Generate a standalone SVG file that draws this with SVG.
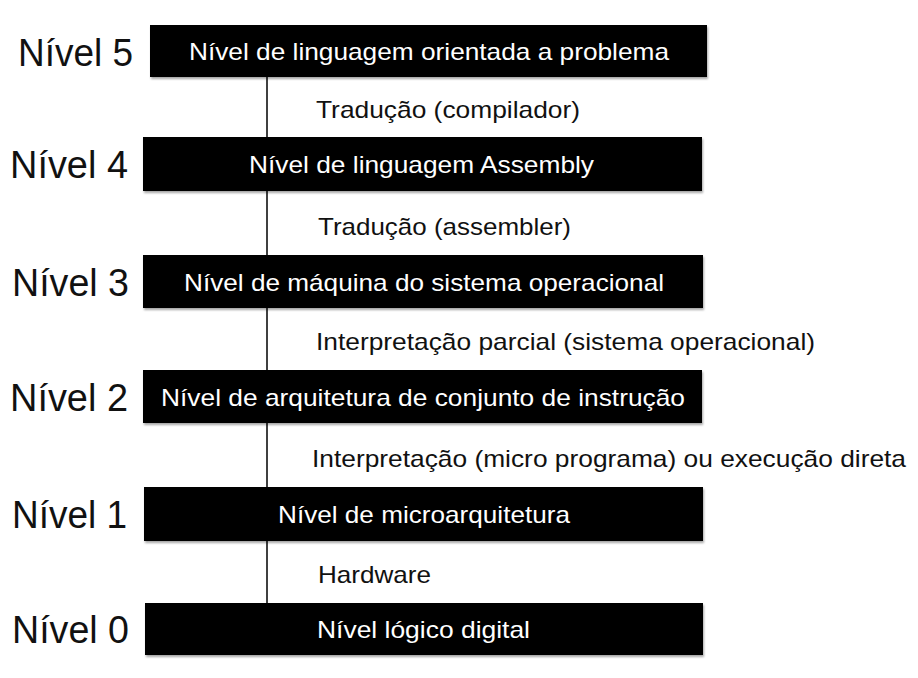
<svg xmlns="http://www.w3.org/2000/svg" width="918" height="678" viewBox="0 0 918 678">
<defs>
<filter id="sh" x="-5%" y="-20%" width="110%" height="150%">
<feDropShadow dx="1" dy="2" stdDeviation="1" flood-color="#000" flood-opacity="0.35"/>
</filter>
</defs>
<style>
.box{fill:#000;filter:url(#sh)}
.bt{font-family:"Liberation Sans",Arial,sans-serif;font-size:24px;fill:#fff;text-anchor:middle}
.lv{font-family:"Liberation Sans",Arial,sans-serif;font-size:38px;fill:#111;text-anchor:end}
.lb{font-family:"Liberation Sans",Arial,sans-serif;font-size:24px;fill:#111}
.conn{stroke:#000;stroke-width:1.5;fill:none}
</style>
<rect width="918" height="678" fill="#fff"/>
<g id="connectors">
<line class="conn" x1="267" y1="77" x2="267" y2="603"/>
<text class="lb" x="316" y="118" textLength="264" lengthAdjust="spacingAndGlyphs">Tradução (compilador)</text>
<text class="lb" x="318" y="235" textLength="253" lengthAdjust="spacingAndGlyphs">Tradução (assembler)</text>
<text class="lb" x="316" y="350" textLength="499" lengthAdjust="spacingAndGlyphs">Interpretação parcial (sistema operacional)</text>
<text class="lb" x="312" y="467" textLength="594" lengthAdjust="spacingAndGlyphs">Interpretação (micro programa) ou execução direta</text>
<text class="lb" x="318" y="583" textLength="113" lengthAdjust="spacingAndGlyphs">Hardware</text>
</g>
<g id="n5">
<rect class="box" x="150" y="25" width="557" height="52"/>
<text class="bt" x="429" y="60" textLength="480" lengthAdjust="spacingAndGlyphs">Nível de linguagem orientada a problema</text>
<text class="lv" x="133" y="66" textLength="115" lengthAdjust="spacingAndGlyphs">Nível 5</text>
</g>
<g id="n4">
<rect class="box" x="143" y="137" width="559" height="54"/>
<text class="bt" x="421.5" y="173" textLength="345" lengthAdjust="spacingAndGlyphs">Nível de linguagem Assembly</text>
<text class="lv" x="128" y="178" textLength="118" lengthAdjust="spacingAndGlyphs">Nível 4</text>
</g>
<g id="n3">
<rect class="box" x="143" y="255" width="560" height="53"/>
<text class="bt" x="424" y="291" textLength="480" lengthAdjust="spacingAndGlyphs">Nível de máquina do sistema operacional</text>
<text class="lv" x="129" y="296" textLength="117" lengthAdjust="spacingAndGlyphs">Nível 3</text>
</g>
<g id="n2">
<rect class="box" x="143" y="370" width="559" height="53"/>
<text class="bt" x="423" y="406" textLength="524" lengthAdjust="spacingAndGlyphs">Nível de arquitetura de conjunto de instrução</text>
<text class="lv" x="128" y="411" textLength="118" lengthAdjust="spacingAndGlyphs">Nível 2</text>
</g>
<g id="n1">
<rect class="box" x="144" y="487" width="559" height="54"/>
<text class="bt" x="424" y="523" textLength="292" lengthAdjust="spacingAndGlyphs">Nível de microarquitetura</text>
<text class="lv" x="127" y="528" textLength="115" lengthAdjust="spacingAndGlyphs">Nível 1</text>
</g>
<g id="n0">
<rect class="box" x="145" y="603" width="558" height="52"/>
<text class="bt" x="423.5" y="638" textLength="213" lengthAdjust="spacingAndGlyphs">Nível lógico digital</text>
<text class="lv" x="129" y="643" textLength="117" lengthAdjust="spacingAndGlyphs">Nível 0</text>
</g>
</svg>
